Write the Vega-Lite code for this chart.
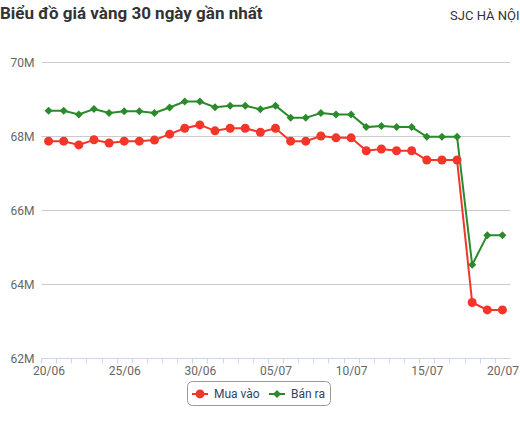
{
  "$schema": "https://vega.github.io/schema/vega-lite/v6.json",
  "width": 469,
  "height": 296,
  "padding": {"left": 0, "top": 5, "right": 0, "bottom": 0},
  "title": {
    "text": "Biểu đồ giá vàng 30 ngày gần nhất",
    "anchor": "start",
    "frame": "bounds",
    "font": "Roboto",
    "fontSize": 17,
    "fontWeight": "bold",
    "color": "#333333",
    "offset": -14
  },
  "config": {
    "font": "Roboto",
    "view": {"stroke": null}
  },
  "data": {
    "values": [
      {"date": "2022-06-20", "series": "Mua vào", "price": 67860000},
      {"date": "2022-06-21", "series": "Mua vào", "price": 67860000},
      {"date": "2022-06-22", "series": "Mua vào", "price": 67760000},
      {"date": "2022-06-23", "series": "Mua vào", "price": 67900000},
      {"date": "2022-06-24", "series": "Mua vào", "price": 67810000},
      {"date": "2022-06-25", "series": "Mua vào", "price": 67860000},
      {"date": "2022-06-26", "series": "Mua vào", "price": 67860000},
      {"date": "2022-06-27", "series": "Mua vào", "price": 67890000},
      {"date": "2022-06-28", "series": "Mua vào", "price": 68050000},
      {"date": "2022-06-29", "series": "Mua vào", "price": 68210000},
      {"date": "2022-06-30", "series": "Mua vào", "price": 68300000},
      {"date": "2022-07-01", "series": "Mua vào", "price": 68140000},
      {"date": "2022-07-02", "series": "Mua vào", "price": 68210000},
      {"date": "2022-07-03", "series": "Mua vào", "price": 68210000},
      {"date": "2022-07-04", "series": "Mua vào", "price": 68100000},
      {"date": "2022-07-05", "series": "Mua vào", "price": 68210000},
      {"date": "2022-07-06", "series": "Mua vào", "price": 67860000},
      {"date": "2022-07-07", "series": "Mua vào", "price": 67860000},
      {"date": "2022-07-08", "series": "Mua vào", "price": 68000000},
      {"date": "2022-07-09", "series": "Mua vào", "price": 67950000},
      {"date": "2022-07-10", "series": "Mua vào", "price": 67950000},
      {"date": "2022-07-11", "series": "Mua vào", "price": 67600000},
      {"date": "2022-07-12", "series": "Mua vào", "price": 67650000},
      {"date": "2022-07-13", "series": "Mua vào", "price": 67600000},
      {"date": "2022-07-14", "series": "Mua vào", "price": 67600000},
      {"date": "2022-07-15", "series": "Mua vào", "price": 67350000},
      {"date": "2022-07-16", "series": "Mua vào", "price": 67350000},
      {"date": "2022-07-17", "series": "Mua vào", "price": 67350000},
      {"date": "2022-07-18", "series": "Mua vào", "price": 63500000},
      {"date": "2022-07-19", "series": "Mua vào", "price": 63300000},
      {"date": "2022-07-20", "series": "Mua vào", "price": 63300000},
      {"date": "2022-06-20", "series": "Bán ra", "price": 68680000},
      {"date": "2022-06-21", "series": "Bán ra", "price": 68680000},
      {"date": "2022-06-22", "series": "Bán ra", "price": 68580000},
      {"date": "2022-06-23", "series": "Bán ra", "price": 68730000},
      {"date": "2022-06-24", "series": "Bán ra", "price": 68620000},
      {"date": "2022-06-25", "series": "Bán ra", "price": 68670000},
      {"date": "2022-06-26", "series": "Bán ra", "price": 68670000},
      {"date": "2022-06-27", "series": "Bán ra", "price": 68620000},
      {"date": "2022-06-28", "series": "Bán ra", "price": 68770000},
      {"date": "2022-06-29", "series": "Bán ra", "price": 68930000},
      {"date": "2022-06-30", "series": "Bán ra", "price": 68930000},
      {"date": "2022-07-01", "series": "Bán ra", "price": 68780000},
      {"date": "2022-07-02", "series": "Bán ra", "price": 68820000},
      {"date": "2022-07-03", "series": "Bán ra", "price": 68820000},
      {"date": "2022-07-04", "series": "Bán ra", "price": 68720000},
      {"date": "2022-07-05", "series": "Bán ra", "price": 68820000},
      {"date": "2022-07-06", "series": "Bán ra", "price": 68490000},
      {"date": "2022-07-07", "series": "Bán ra", "price": 68490000},
      {"date": "2022-07-08", "series": "Bán ra", "price": 68620000},
      {"date": "2022-07-09", "series": "Bán ra", "price": 68580000},
      {"date": "2022-07-10", "series": "Bán ra", "price": 68580000},
      {"date": "2022-07-11", "series": "Bán ra", "price": 68240000},
      {"date": "2022-07-12", "series": "Bán ra", "price": 68270000},
      {"date": "2022-07-13", "series": "Bán ra", "price": 68240000},
      {"date": "2022-07-14", "series": "Bán ra", "price": 68240000},
      {"date": "2022-07-15", "series": "Bán ra", "price": 67980000},
      {"date": "2022-07-16", "series": "Bán ra", "price": 67980000},
      {"date": "2022-07-17", "series": "Bán ra", "price": 67980000},
      {"date": "2022-07-18", "series": "Bán ra", "price": 64520000},
      {"date": "2022-07-19", "series": "Bán ra", "price": 65320000},
      {"date": "2022-07-20", "series": "Bán ra", "price": 65320000}
    ]
  },
  "encoding": {
    "x": {
      "field": "date",
      "type": "temporal",
      "scale": {
        "type": "utc",
        "domain": [
          {"year": 2022, "month": 6, "date": 19, "hours": 12, "utc": true},
          {"year": 2022, "month": 7, "date": 20, "hours": 12, "utc": true}
        ]
      },
      "axis": {
        "title": null,
        "grid": false,
        "tickCount": {"interval": "day", "step": 1},
        "tickOffset": -7.56,
        "labelOffset": 7.56,
        "tickSize": 5,
        "tickColor": "#ccd6eb",
        "domainColor": "#ccd6eb",
        "labelExpr": "indexof([5, 10, 15, 20, 25, 30], utcdate(datum.value)) >= 0 ? utcFormat(datum.value, '%d/%m') : ''",
        "labelOverlap": false,
        "labelFlush": false,
        "labelFontSize": 12,
        "labelColor": "#666666",
        "labelPadding": 2
      }
    },
    "y": {
      "field": "price",
      "type": "quantitative",
      "scale": {"domain": [62000000, 70000000], "nice": false, "zero": false},
      "axis": {
        "values": [62000000, 64000000, 66000000, 68000000, 70000000],
        "labelExpr": "datum.value / 1000000 + 'M'",
        "domain": false,
        "ticks": false,
        "gridColor": "#cccccc",
        "labelFontSize": 12,
        "labelColor": "#666666",
        "labelPadding": 7,
        "minExtent": 41,
        "title": "SJC HÀ NỘI",
        "titleAngle": 0,
        "titleAlign": "right",
        "titleBaseline": "alphabetic",
        "titleX": 478,
        "titleY": -43,
        "titleFontSize": 13,
        "titleFontWeight": "normal",
        "titleColor": "#333333"
      }
    },
    "color": {
      "field": "series",
      "type": "nominal",
      "scale": {"domain": ["Mua vào", "Bán ra"], "range": ["#f4352a", "#2b8a2b"]},
      "legend": null
    }
  },
  "layer": [
    {
      "mark": {"type": "point", "filled": true, "opacity": 0, "size": 256},
      "encoding": {
        "color": {
          "field": "series",
          "type": "nominal",
          "legend": {
            "title": null,
            "orient": "none",
            "legendX": 146,
            "legendY": 319,
            "direction": "horizontal",
            "strokeColor": "#999999",
            "cornerRadius": 5,
            "padding": 5,
            "symbolSize": 256,
            "symbolOpacity": 1,
            "symbolStrokeWidth": 0,
            "labelFontSize": 12,
            "labelColor": "#2f4560",
            "labelOffset": 6,
            "columnPadding": 9
          }
        },
        "shape": {
          "field": "series",
          "type": "nominal",
          "scale": {
            "domain": ["Mua vào", "Bán ra"],
            "range": [
              "M-1,-0.125H1V0.125H-1Z M-0.56,0A0.56,0.56 0 1,1 0.56,0A0.56,0.56 0 1,1 -0.56,0Z",
              "M-1,-0.125H1V0.125H-1Z M0,-0.5L0.5,0L0,0.5L-0.5,0Z"
            ]
          },
          "legend": null
        }
      }
    },
    {"mark": {"type": "line", "strokeWidth": 2}},
    {
      "transform": [{"filter": "datum.series === 'Mua vào'"}],
      "mark": {"type": "point", "shape": "circle", "filled": true, "opacity": 1, "size": 81}
    },
    {
      "transform": [{"filter": "datum.series === 'Bán ra'"}],
      "mark": {"type": "point", "shape": "diamond", "filled": true, "opacity": 1, "size": 64}
    }
  ]
}
